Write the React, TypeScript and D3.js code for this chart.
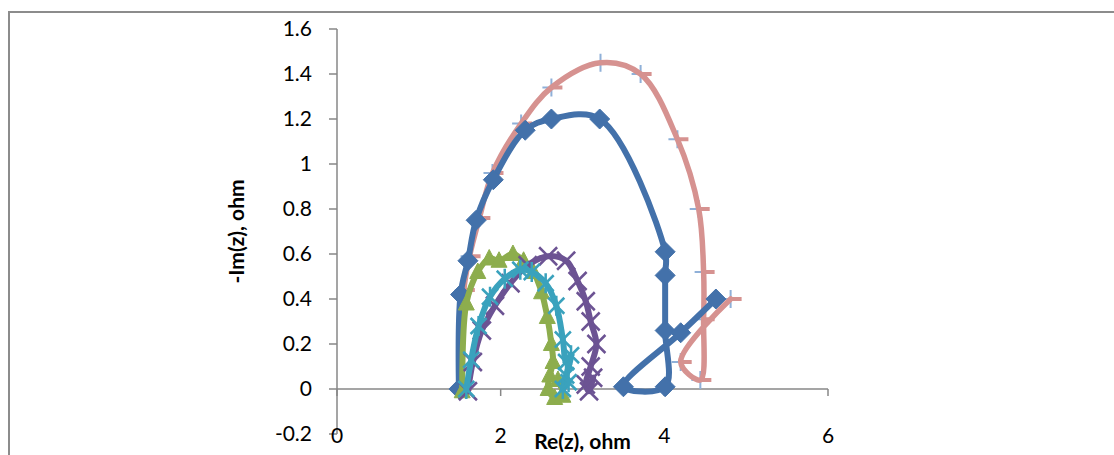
import React from "react";
import * as d3 from "d3";

type P = [number, number];

const xTicks = [0, 2, 4, 6];
const yTicks = [-0.2, 0, 0.2, 0.4, 0.6, 0.8, 1, 1.2, 1.4, 1.6];
const yTickLabels = ["-0.2", "0", "0.2", "0.4", "0.6", "0.8", "1", "1.2", "1.4", "1.6"];

const seriesBlue: P[] = [
  [1.49, 0.0], [1.51, 0.42], [1.6, 0.57], [1.7, 0.75], [1.91, 0.93], [2.3, 1.15],
  [2.62, 1.2], [3.21, 1.2], [4.01, 0.61], [4.01, 0.505], [4.01, 0.26], [4.01, 0.01],
  [3.5, 0.01], [4.2, 0.25], [4.63, 0.4],
];

const seriesPink: P[] = [
  [1.51, 0.0], [1.55, 0.44], [1.62, 0.59], [1.74, 0.76], [1.9, 0.96], [2.25, 1.18],
  [2.62, 1.34], [3.22, 1.45], [3.71, 1.4], [4.16, 1.11], [4.42, 0.8], [4.48, 0.52],
  [4.48, 0.31], [4.44, 0.04], [4.2, 0.12], [4.81, 0.4],
];

const seriesGreen: P[] = [
  [1.53, -0.01], [1.58, 0.38], [1.72, 0.52], [1.86, 0.58], [1.98, 0.57], [2.15, 0.6],
  [2.28, 0.57], [2.4, 0.52], [2.5, 0.43], [2.57, 0.32], [2.62, 0.2], [2.64, 0.12],
  [2.6, 0.06], [2.58, 0.0], [2.66, -0.04], [2.76, -0.03], [2.7, 0.04],
];

const seriesPurple: P[] = [
  [1.6, -0.01], [1.66, 0.12], [1.77, 0.26], [1.93, 0.37], [2.12, 0.47], [2.33, 0.55],
  [2.58, 0.59], [2.8, 0.57], [2.94, 0.48], [3.04, 0.39], [3.1, 0.3], [3.17, 0.2],
  [3.1, 0.1], [3.04, 0.02], [3.08, -0.01], [3.13, 0.05],
];

const seriesTeal: P[] = [
  [1.58, 0.0], [1.64, 0.13], [1.73, 0.28], [1.87, 0.41], [2.05, 0.49], [2.24, 0.53],
  [2.38, 0.52], [2.55, 0.47], [2.68, 0.37], [2.76, 0.22], [2.8, 0.12], [2.86, 0.15],
  [2.8, 0.06], [2.76, 0.0], [2.83, 0.03],
];

const C = {
  blue: "#4371AA",
  pink: "#D69290",
  plus: "#8FB0D8",
  green: "#8DAD4D",
  purple: "#6C5393",
  teal: "#3AA2BD",
  axis: "#878787",
};

const FONT = "Lato, 'Noto Sans', sans-serif";

const W = 1114;
const H = 455;

const diamond = "M0,-10L10,0L0,10L-10,0Z";
const triangle = "M0,-9L8,6.5L-8,6.5Z";
const cross = "M-9,-9L9,9M-9,9L9,-9";
const star = "M-8,-8L8,8M-8,8L8,-8M0,-10L0,10";
const plus = "M-9,0L9,0M0,-9L0,9";

export default function App() {
  const x = d3.scaleLinear().domain([0, 6]).range([337, 828]);
  const y = d3.scaleLinear().domain([-0.2, 1.6]).range([434, 29]);
  const line = d3
    .line<P>()
    .x((d) => x(d[0]))
    .y((d) => y(d[1]))
    .curve(d3.curveCatmullRom.alpha(0.5));

  const markers = (data: P[], path: string, props: any, key: string) =>
    data.map((d, i) => (
      <path key={key + i} d={path} transform={`translate(${x(d[0])},${y(d[1])})`} {...props} />
    ));

  return (
    <svg
      width={W}
      height={H}
      style={{ position: "absolute", left: 0, top: 0, background: "#fff" }}
    >
      <rect x={9} y={12} width={W + 20} height={H + 20} fill="#fff" stroke="#8c8c8c" strokeWidth={2} />

      {/* axes */}
      <line x1={x(0)} x2={x(0)} y1={y(1.6)} y2={y(-0.2)} stroke={C.axis} strokeWidth={1.5} />
      {yTicks.map((t) => (
        <line key={"yt" + t} x1={x(0) - 8} x2={x(0)} y1={y(t)} y2={y(t)} stroke={C.axis} strokeWidth={1.5} />
      ))}
      <line x1={x(0)} x2={x(6)} y1={y(0)} y2={y(0)} stroke={C.axis} strokeWidth={1.5} />
      {xTicks.map((t) => (
        <line key={"xt" + t} x1={x(t)} x2={x(t)} y1={y(0)} y2={y(0) + 7} stroke={C.axis} strokeWidth={1.5} />
      ))}
      {yTicks.map((t, i) => (
        <text
          key={"yl" + t}
          x={312}
          y={y(t)}
          dy="0.35em"
          textAnchor="end"
          fontFamily={FONT}
          fontSize={21}
          fill="#000"
        >
          {yTickLabels[i]}
        </text>
      ))}
      {xTicks.map((t) => (
        <text
          key={"xl" + t}
          x={x(t)}
          y={y(-0.2) + 2}
          dy="0.35em"
          textAnchor="middle"
          fontFamily={FONT}
          fontSize={21}
          fill="#000"
        >
          {t}
        </text>
      ))}
      <text
        transform={`translate(237,${(y(1.6) + y(-0.2)) / 2}) rotate(-90)`}
        textAnchor="middle"
        dy="0.35em"
        fontFamily={FONT}
        fontWeight="bold"
        fontSize={21}
        fill="#000"
      >
        -Im(z), ohm
      </text>
      <text
        x={(x(0) + x(6)) / 2}
        y={442}
        dy="0.35em"
        textAnchor="middle"
        fontFamily={FONT}
        fontWeight="bold"
        fontSize={21}
        fill="#000"
      >
        Re(z), ohm
      </text>

      {/* pink series */}
      {markers(seriesPink, plus, { stroke: C.plus, strokeWidth: 2, fill: "none" }, "pp")}
      <path d={line(seriesPink) || ""} fill="none" stroke={C.pink} strokeWidth={5.5} strokeLinejoin="round" strokeLinecap="round" />
      {markers(seriesPink, "M0,0L11,0", { stroke: C.pink, strokeWidth: 4, fill: "none" }, "pd")}

      {/* blue series */}
      <path d={line(seriesBlue) || ""} fill="none" stroke={C.blue} strokeWidth={6} strokeLinejoin="round" strokeLinecap="round" />
      {markers(seriesBlue, diamond, { fill: C.blue, stroke: C.blue, strokeWidth: 1, strokeLinejoin: "round" }, "bd")}

      {/* green series */}
      <path d={line(seriesGreen) || ""} fill="none" stroke={C.green} strokeWidth={6} strokeLinejoin="round" strokeLinecap="round" />
      {markers(seriesGreen, triangle, { fill: C.green, stroke: C.green, strokeWidth: 1 }, "gt")}

      {/* purple series */}
      <path d={line(seriesPurple) || ""} fill="none" stroke={C.purple} strokeWidth={6} strokeLinejoin="round" strokeLinecap="round" />
      {markers(seriesPurple, cross, { stroke: C.purple, strokeWidth: 2.5, fill: "none" }, "px")}

      {/* teal series */}
      <path d={line(seriesTeal) || ""} fill="none" stroke={C.teal} strokeWidth={6} strokeLinejoin="round" strokeLinecap="round" />
      {markers(seriesTeal, star, { stroke: C.teal, strokeWidth: 2.5, fill: "none" }, "ts")}
    </svg>
  );
}
